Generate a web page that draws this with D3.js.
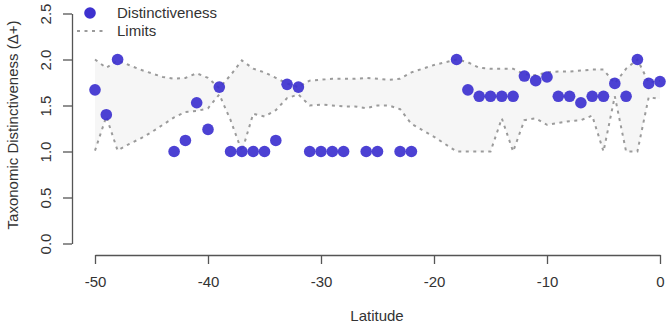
<!DOCTYPE html>
<html>
<head>
<meta charset="utf-8">
<script src="https://cdn.jsdelivr.net/npm/d3@7"></script>
<style>
  html, body { margin: 0; padding: 0; background: #ffffff; }
  svg { display: block; }
  text { font-family: "Liberation Sans", Arial, Helvetica, sans-serif; }
</style>
</head>
<body>
<svg id="chart" width="669" height="327"></svg>
<script>
// ---- data ----
const pointLat = [-50,-49,-48,-43,-42,-41,-40,-39,-38,-37,-36,-35,-34,-33,-32,-31,-30,-29,-28,-26,-25,-23,-22,
                  -18,-17,-16,-15,-14,-13,-12,-11,-10,-9,-8,-7,-6,-5,-4,-3,-2,-1,0];
const pointDelta = [1.67,1.40,2.00,1.00,1.12,1.53,1.24,1.70,1.00,1.00,1.00,1.00,1.12,1.73,1.70,1.00,1.00,1.00,1.00,1.00,1.00,1.00,1.00,
                    2.00,1.67,1.60,1.60,1.60,1.60,1.82,1.77,1.81,1.60,1.60,1.53,1.60,1.60,1.74,1.60,2.00,1.74,1.76];

const limitLat = [-50,-49,-48,-47,-46,-45,-44,-43,-42,-41,-40,-39,-38,-37,-36,-35,-34,-33,-32,-31,-30,-29,-28,-27,-26,-25,-24,-23,-22,-21,-20,-19,
                  -18,-17,-16,-15,-14,-13,-12,-11,-10,-9,-8,-7,-6,-5,-4,-3,-2,-1,0];
const upperLimit = [2.00,1.91,1.99,1.94,1.89,1.85,1.81,1.79,1.80,1.85,1.80,1.69,1.83,1.99,1.90,1.86,1.80,1.74,1.70,1.77,1.78,1.79,1.79,1.79,1.80,1.79,1.78,1.79,1.86,1.90,1.94,1.97,
                    2.00,1.97,1.91,1.90,1.90,1.90,1.84,1.83,1.86,1.87,1.87,1.88,1.89,1.89,1.74,1.90,2.00,1.75,1.77];
const lowerLimit = [1.01,1.38,1.01,1.08,1.14,1.21,1.29,1.37,1.43,1.44,1.47,1.62,1.34,1.00,1.41,1.38,1.45,1.58,1.62,1.50,1.51,1.50,1.49,1.49,1.47,1.50,1.50,1.46,1.30,1.23,1.16,1.08,
                    1.00,1.00,1.00,1.00,1.36,1.00,1.34,1.36,1.29,1.31,1.33,1.34,1.39,1.00,1.60,1.00,1.00,1.59,1.57];

const xTicks = [-50,-40,-30,-20,-10,0];
const yTicks = [0,0.5,1.0,1.5,2.0,2.5];

const legendLabels = ["Distinctiveness", "Limits"];
const xTitle = "Latitude";
const yTitle = "Taxonomic Distinctiveness (\u0394+)";

// ---- drawing ----
const svg = d3.select("#chart");
const x = d3.scaleLinear().domain([-50, 0]).range([95, 660]);
const y = d3.scaleLinear().domain([0, 2.5]).range([243.5, 13.5]);

const limits = limitLat.map((d, i) => ({lat: d, up: upperLimit[i], lo: lowerLimit[i]}));
const points = pointLat.map((d, i) => ({lat: d, v: pointDelta[i]}));

const lineColor = "#9b9b9b";
const dash = "3,4.5";
const pointColor = "#3d31cf";

// band
svg.append("path")
  .datum(limits)
  .attr("fill", "#f6f6f6")
  .attr("d", d3.area().x(d => x(d.lat)).y0(d => y(d.lo)).y1(d => y(d.up)));

// limit lines
["up", "lo"].forEach(k => {
  svg.append("path")
    .datum(limits)
    .attr("fill", "none")
    .attr("stroke", lineColor)
    .attr("stroke-width", 2)
    .attr("stroke-dasharray", dash)
    .attr("d", d3.line().x(d => x(d.lat)).y(d => y(d[k])));
});

// points
svg.append("g").selectAll("circle")
  .data(points)
  .enter().append("circle")
  .attr("cx", d => x(d.lat))
  .attr("cy", d => y(d.v))
  .attr("r", 5.8)
  .attr("fill", pointColor)
  .attr("fill-opacity", 0.92);

// x axis
const gx = svg.append("g")
  .attr("transform", "translate(0,255)")
  .call(d3.axisBottom(x).tickValues(xTicks).tickFormat(d3.format("d")).tickSize(9).tickSizeOuter(0).tickPadding(12));
gx.select(".domain").attr("stroke", "#555").attr("stroke-width", 1.3);
gx.selectAll(".tick line").attr("stroke", "#555").attr("stroke-width", 1.3);
gx.selectAll(".tick text").attr("fill", "#333").attr("font-size", 15)
  .text(d => d < 0 ? "-" + Math.abs(d) : String(d));

// y axis
const gy = svg.append("g")
  .attr("transform", "translate(72,0)")
  .call(d3.axisLeft(y).tickValues(yTicks).tickFormat(d3.format(".1f")).tickSize(9).tickSizeOuter(0));
gy.select(".domain").attr("stroke", "#555").attr("stroke-width", 1.3);
gy.selectAll(".tick line").attr("stroke", "#555").attr("stroke-width", 1.3);
gy.selectAll(".tick text").attr("fill", "#333").attr("font-size", 15)
  .attr("text-anchor", "middle")
  .attr("x", 0).attr("y", 0)
  .attr("dy", "0.35em")
  .attr("transform", "translate(-26,0) rotate(-90)");

// titles
svg.append("text")
  .attr("x", 377).attr("y", 321)
  .attr("text-anchor", "middle")
  .attr("font-size", 15).attr("fill", "#333")
  .text(xTitle);
svg.append("text")
  .attr("transform", "translate(13,125) rotate(-90)")
  .attr("text-anchor", "middle")
  .attr("dy", "0.35em")
  .attr("font-size", 15).attr("fill", "#333")
  .text(yTitle);

// legend
const lg = svg.append("g");
lg.append("circle").attr("cx", 90).attr("cy", 13).attr("r", 5.8).attr("fill", pointColor);
lg.append("line").attr("x1", 77).attr("x2", 106).attr("y1", 31).attr("y2", 31)
  .attr("stroke", lineColor).attr("stroke-width", 2).attr("stroke-dasharray", dash);
lg.selectAll("text").data(legendLabels).enter().append("text")
  .attr("x", 117).attr("y", (d, i) => 13 + i * 18)
  .attr("dy", "0.35em")
  .attr("font-size", 15).attr("fill", "#333")
  .text(d => d);
</script>
</body>
</html>
